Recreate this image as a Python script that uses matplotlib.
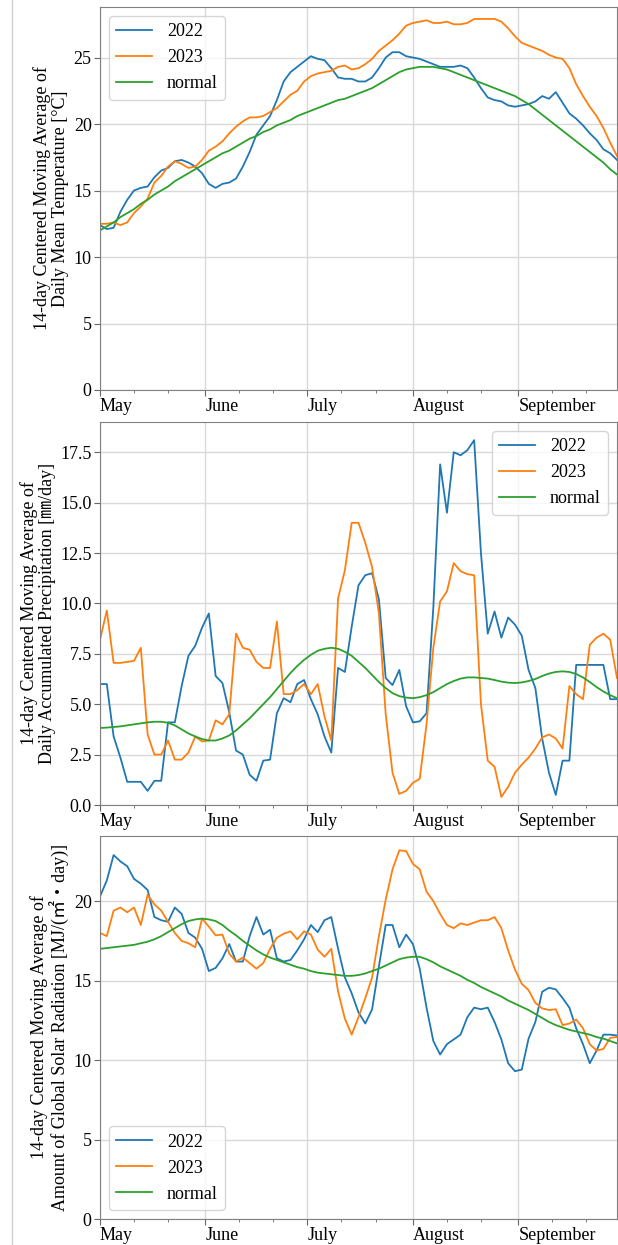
import numpy as np
import pandas as pd
import matplotlib
matplotlib.use('Agg')
import matplotlib.pyplot as plt
import matplotlib.dates as mdates
from matplotlib.ticker import MultipleLocator
from matplotlib.lines import Line2D

plt.rcParams['font.family'] = ['Liberation Serif', 'Noto Sans CJK JP', 'DejaVu Sans']
plt.rcParams['font.size'] = 13

# every second day from 1 May to 30 Sep
dates = pd.date_range('2022-05-01', '2022-09-30', freq='2D')

temp_2022 = [12.4, 12.1, 12.2, 13.4, 14.3, 15.0, 15.2, 15.3, 16.0, 16.5, 16.7, 17.2, 17.3, 17.1, 16.8, 16.3,
             15.5, 15.2, 15.5, 15.6, 15.9, 16.8, 17.9, 19.2, 19.9, 20.6, 21.8, 23.2, 23.9, 24.3, 24.7, 25.1,
             24.9, 24.8, 24.2, 23.5, 23.4, 23.4, 23.2, 23.2, 23.5, 24.2, 25.0, 25.4, 25.4, 25.1, 25.0, 24.9,
             24.7, 24.5, 24.3, 24.3, 24.3, 24.4, 24.2, 23.5, 22.7, 22.0, 21.8, 21.7, 21.4, 21.3, 21.4, 21.5,
             21.7, 22.1, 21.9, 22.4, 21.6, 20.8, 20.4, 19.9, 19.3, 18.8, 18.1, 17.8, 17.3]
temp_2023 = [12.5, 12.5, 12.6, 12.4, 12.6, 13.3, 13.8, 14.4, 15.6, 16.1, 16.8, 17.2, 17.0, 16.7, 16.8, 17.3,
             18.0, 18.3, 18.7, 19.3, 19.8, 20.2, 20.5, 20.5, 20.6, 20.9, 21.2, 21.7, 22.2, 22.5, 23.2, 23.6,
             23.8, 23.9, 24.0, 24.3, 24.4, 24.1, 24.2, 24.5, 24.9, 25.5, 25.9, 26.3, 26.8, 27.4, 27.6, 27.7,
             27.8, 27.6, 27.6, 27.7, 27.5, 27.5, 27.6, 27.9, 27.9, 27.9, 27.9, 27.7, 27.2, 26.6, 26.1, 25.9,
             25.7, 25.5, 25.2, 25.0, 24.9, 24.2, 23.0, 22.1, 21.3, 20.6, 19.7, 18.6, 17.6]
temp_normal = [12.0, 12.3, 12.6, 13.0, 13.3, 13.6, 14.0, 14.3, 14.7, 15.0, 15.3, 15.7, 16.0, 16.3, 16.6, 16.9,
               17.2, 17.5, 17.8, 18.0, 18.3, 18.6, 18.9, 19.1, 19.4, 19.6, 19.9, 20.1, 20.3, 20.6, 20.8, 21.0,
               21.2, 21.4, 21.6, 21.8, 21.9, 22.1, 22.3, 22.5, 22.7, 23.0, 23.3, 23.6, 23.9, 24.1, 24.2, 24.3,
               24.3, 24.3, 24.2, 24.1, 23.9, 23.7, 23.5, 23.3, 23.1, 22.9, 22.7, 22.5, 22.3, 22.1, 21.8, 21.5,
               21.1, 20.7, 20.3, 19.9, 19.5, 19.1, 18.7, 18.3, 17.9, 17.5, 17.1, 16.6, 16.2]

prec_2022 = [6.0, 6.0, 3.4, 2.35, 1.15, 1.15, 1.15, 0.7, 1.2, 1.2, 4.1, 4.1, 5.9, 7.4, 7.9, 8.8,
             9.5, 6.4, 6.05, 4.6, 2.7, 2.5, 1.5, 1.2, 2.2, 2.25, 4.55, 5.3, 5.1, 6.0, 6.2, 5.25,
             4.5, 3.4, 2.6, 6.8, 6.6, 8.85, 10.9, 11.4, 11.5, 10.2, 6.3, 5.95, 6.7, 4.9, 4.1, 4.15,
             4.55, 9.8, 16.9, 14.5, 17.5, 17.35, 17.6, 18.1, 12.5, 8.5, 9.6, 8.3, 9.3, 8.95, 8.4, 6.7,
             5.8, 3.3, 1.6, 0.5, 2.2, 2.2, 6.95, 6.95, 6.95, 6.95, 6.95, 5.25, 5.25]
prec_2023 = [8.2, 9.65, 7.05, 7.05, 7.1, 7.15, 7.8, 3.5, 2.5, 2.5, 3.2, 2.25, 2.25, 2.6, 3.4, 3.15,
             3.2, 4.2, 4.0, 4.5, 8.5, 7.8, 7.7, 7.1, 6.8, 6.8, 9.1, 5.5, 5.5, 5.7, 6.0, 5.5,
             6.0, 4.4, 3.2, 10.25, 11.65, 14.0, 14.0, 13.0, 11.8, 9.5, 4.5, 1.6, 0.55, 0.7, 1.1, 1.3,
             4.0, 7.8, 10.1, 10.6, 12.0, 11.6, 11.45, 11.4, 5.0, 2.2, 1.9, 0.4, 0.9, 1.6, 2.0, 2.35,
             2.8, 3.35, 3.5, 3.3, 2.8, 5.9, 5.5, 5.25, 7.95, 8.3, 8.5, 8.2, 6.3]
prec_normal = [3.82, 3.84, 3.87, 3.9, 3.95, 4.0, 4.05, 4.1, 4.13, 4.13, 4.08, 3.95, 3.75, 3.55, 3.4, 3.27,
               3.2, 3.2, 3.3, 3.45, 3.7, 4.0, 4.3, 4.65, 5.0, 5.35, 5.75, 6.15, 6.55, 6.9, 7.2, 7.45,
               7.65, 7.75, 7.8, 7.75, 7.6, 7.4, 7.1, 6.8, 6.45, 6.1, 5.8, 5.55, 5.4, 5.33, 5.3, 5.35,
               5.45, 5.6, 5.8, 6.0, 6.15, 6.27, 6.33, 6.33, 6.3, 6.27, 6.2, 6.12, 6.07, 6.05, 6.08, 6.15,
               6.25, 6.4, 6.52, 6.6, 6.63, 6.6, 6.5, 6.33, 6.1, 5.85, 5.63, 5.45, 5.3]

sun_2022 = [20.3, 21.3, 22.9, 22.5, 22.2, 21.4, 21.1, 20.7, 19.0, 18.8, 18.7, 19.6, 19.2, 18.0, 17.7, 17.0,
            15.6, 15.8, 16.4, 17.3, 16.2, 16.2, 17.8, 19.0, 17.9, 18.2, 16.4, 16.2, 16.3, 16.9, 17.6, 18.5,
            18.05, 18.8, 19.0, 17.0, 15.2, 14.2, 13.0, 12.3, 13.2, 15.9, 18.5, 18.5, 17.1, 17.9, 17.3, 15.75,
            13.3, 11.2, 10.35, 11.0, 11.3, 11.6, 12.7, 13.3, 13.2, 13.3, 12.4, 11.3, 9.8, 9.3, 9.4, 11.35,
            12.4, 14.3, 14.55, 14.45, 13.9, 13.3, 12.0, 11.0, 9.8, 10.6, 11.6, 11.6, 11.55]
sun_2023 = [18.0, 17.8, 19.4, 19.6, 19.3, 19.6, 18.5, 20.4, 19.8, 19.4, 18.7, 18.0, 17.5, 17.35, 17.1, 18.9,
            18.4, 17.85, 17.9, 16.7, 16.2, 16.45, 16.1, 15.75, 16.1, 17.0, 17.7, 17.95, 18.1, 17.6, 18.1, 17.9,
            16.95, 16.5, 17.0, 14.3, 12.6, 11.6, 12.7, 13.9, 15.2, 17.8, 20.1, 22.0, 23.2, 23.15, 22.35, 22.0,
            20.6, 20.0, 19.2, 18.5, 18.3, 18.6, 18.5, 18.65, 18.8, 18.8, 19.0, 18.3, 16.9, 15.7, 14.8, 14.4,
            13.6, 13.25, 13.15, 13.2, 12.2, 12.3, 12.55, 12.0, 11.0, 10.6, 10.7, 11.4, 11.45]
sun_normal = [17.0, 17.05, 17.1, 17.15, 17.2, 17.25, 17.35, 17.45, 17.6, 17.8, 18.05, 18.3, 18.55, 18.75, 18.85, 18.9,
              18.85, 18.75, 18.5, 18.15, 17.85, 17.5, 17.2, 16.9, 16.65, 16.45, 16.3, 16.15, 16.0, 15.85, 15.75, 15.6,
              15.5, 15.45, 15.4, 15.35, 15.3, 15.3, 15.35, 15.45, 15.6, 15.75, 15.95, 16.15, 16.35, 16.45, 16.5, 16.5,
              16.35, 16.15, 15.9, 15.7, 15.5, 15.3, 15.05, 14.85, 14.6, 14.4, 14.2, 14.0, 13.75, 13.55, 13.35, 13.15,
              12.9, 12.65, 12.4, 12.2, 12.05, 11.9, 11.8, 11.7, 11.6, 11.45, 11.35, 11.2, 11.05]

panels = [
    (temp_2022, temp_2023, temp_normal, '14-day Centered Moving Average of\nDaily Mean Temperature [°C]',
     28.8, 5, 'upper left'),
    (prec_2022, prec_2023, prec_normal, '14-day Centered Moving Average of\nDaily Accumulated Precipitation [㎜/day]',
     19.0, 2.5, 'upper right'),
    (sun_2022, sun_2023, sun_normal, '14-day Centered Moving Average of\nAmount of Global Solar Radiation [MJ/(㎡・day)]',
     24.1, 5, 'lower left'),
]

fig = plt.figure(figsize=(6.18, 12.45), dpi=100)
tops = [7, 422, 836]
for (y22, y23, ynorm, label, ymax, step, loc), top in zip(panels, tops):
    ax = fig.add_axes([100 / 618, 1 - (top + 383) / 1245, 517 / 618, 383 / 1245])
    ax.plot(dates, y22, color='C0', lw=1.3, label='2022')
    ax.plot(dates, y23, color='C1', lw=1.3, label='2023')
    ax.plot(dates, ynorm, color='C2', lw=1.3, label='normal')
    ax.set_xlim(pd.Timestamp('2022-05-01'), pd.Timestamp('2022-09-30'))
    ax.set_ylim(0, ymax)
    ax.yaxis.set_major_locator(MultipleLocator(step))
    if step == 2.5:
        ax.yaxis.set_major_formatter(plt.FormatStrFormatter('%.1f'))
    ax.xaxis.set_major_locator(mdates.MonthLocator())
    ax.xaxis.set_minor_locator(mdates.DayLocator(bymonthday=[11, 21]))
    ax.xaxis.set_major_formatter(mdates.DateFormatter('%B'))
    plt.setp(ax.get_xticklabels(), ha='left')
    ax.tick_params(axis='both', which='major', length=4, color='0.4', labelsize=13, pad=2)
    ax.tick_params(axis='x', which='minor', length=2.5, color='0.4')
    ax.grid(True, which='major', color='0.85', lw=1.0)
    for s in ax.spines.values():
        s.set_color('0.5')
    ax.set_ylabel(label, fontsize=13, labelpad=3, linespacing=1.1)
    ax.legend(loc=loc, fontsize=13)

# thin border line at the left of the screenshot
fig.add_artist(Line2D([12 / 618, 12 / 618], [0, 1], color='0.82', lw=1.0))

fig.savefig('out.png', dpi=100)
